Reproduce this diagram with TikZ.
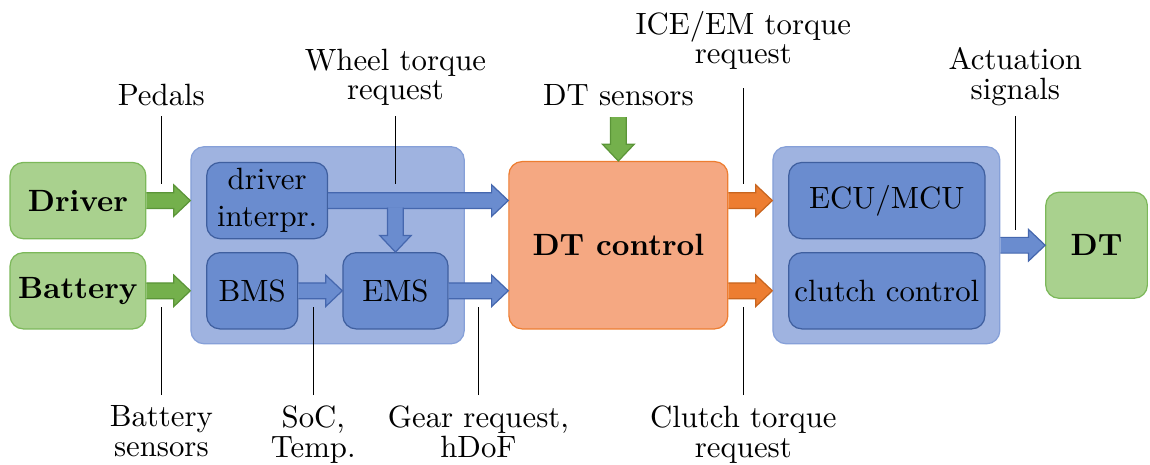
\documentclass[tikz,border=0pt]{standalone}
\usepackage{amsmath}
\usetikzlibrary{calc, positioning}

\definecolor{drvfill}{HTML}{A9D18E}
\definecolor{drvline}{HTML}{7CB85A}
\definecolor{grnarrow}{HTML}{74B04C}
\definecolor{grnarrowline}{HTML}{5B9538}
\definecolor{blkfill}{HTML}{6A8CCF}
\definecolor{blkline}{HTML}{3F5F9F}
\definecolor{bluarrowline}{HTML}{4567AE}
\definecolor{grpfill}{HTML}{9FB3E0}
\definecolor{grpline}{HTML}{86A0D8}
\definecolor{ctrlfill}{HTML}{F5A882}
\definecolor{ctrlline}{HTML}{ED7D31}
\definecolor{orgarrow}{HTML}{ED7D31}
\definecolor{orgarrowline}{HTML}{C8651F}

\tikzset{
  blk/.style={rounded corners=0.15cm, minimum height=0.87cm, inner sep=1pt, align=center},
  envbox/.style={blk, draw=drvline, fill=drvfill, font=\bfseries},
  ctrlbox/.style={blk, draw=blkline, fill=blkfill},
  grp/.style={rounded corners=0.15cm, draw=grpline, fill=grpfill, inner sep=0pt},
  sig/.style={align=center, font=\fontsize{10pt}{9.6pt}\selectfont},
  pointer/.style={black, line width=0.4pt},
  bluearrow/.style={fill=blkfill, draw=bluarrowline, line width=0.4pt},
  greenarrow/.style={fill=grnarrow, draw=grnarrowline, line width=0.4pt},
  orangearrow/.style={fill=orgarrow, draw=orgarrowline, line width=0.4pt},
}

% block arrow from #2 to #3 (shaft half width, head half width, head length)
\def\shaftw{0.09cm}
\def\headw{0.18cm}
\def\headlen{0.19cm}
\newcommand{\fatarrow}[3][bluearrow]{%
  \coordinate (fa-s) at (#2);
  \coordinate (fa-e) at (#3);
  \coordinate (fa-h) at ($(fa-e)!\headlen!(fa-s)$);
  \filldraw[#1] ($(fa-s)!\shaftw!90:(fa-e)$)
    -- ($(fa-h)!\shaftw!90:(fa-e)$)
    -- ($(fa-h)!\headw!90:(fa-e)$)
    -- (fa-e)
    -- ($(fa-h)!\headw!-90:(fa-e)$)
    -- ($(fa-h)!\shaftw!-90:(fa-e)$)
    -- ($(fa-s)!\shaftw!-90:(fa-e)$);
}

\begin{document}
\begin{tikzpicture}
\useasboundingbox (0,0) rectangle (13.13,5.30);

% Inputs
\node[envbox, minimum width=1.55cm] (driver) at (0.89,3.01) {Driver};
\node[envbox, minimum width=1.55cm] (battery) at (0.89,1.98) {Battery};

% Supervisory layer
\node[grp, minimum width=3.12cm, minimum height=2.25cm] (grp1) at (3.74,2.50) {};
\node[ctrlbox, minimum width=1.38cm] (dint) at (3.05,3.01) {driver\\interpr.};
\node[ctrlbox, minimum width=1.04cm] (bms) at (2.88,1.98) {BMS};
\node[ctrlbox, minimum width=1.20cm] (ems) at (4.515,1.98) {EMS};

% Drivetrain control
\node[blk, draw=ctrlline, fill=ctrlfill, minimum width=2.50cm, minimum height=1.91cm,
      font=\bfseries] (dtc) at (7.06,2.50) {DT control};

% Low level controllers
\node[grp, minimum width=2.59cm, minimum height=2.25cm] (grp2) at (10.12,2.50) {};
\node[ctrlbox, minimum width=2.24cm] (ecu) at (10.125,3.01) {ECU/MCU};
\node[ctrlbox, minimum width=2.24cm] (clutch) at (10.125,1.98) {clutch control};

% Plant
\node[envbox, minimum width=1.16cm, minimum height=1.21cm] (dt) at (12.52,2.50) {DT};

% Signal flow
\fatarrow[greenarrow]{driver.east}{driver.east -| grp1.west}
\fatarrow[greenarrow]{battery.east}{battery.east -| grp1.west}
\fatarrow{dint.east}{dint.east -| dtc.west}
\fatarrow{$(dint.east -| ems.north)+(0,-0.08)$}{ems.north}
\fatarrow{bms.east}{bms.east -| ems.west}
\fatarrow{ems.east}{ems.east -| dtc.west}
\fatarrow[orangearrow]{dtc.east |- ecu.west}{ecu.west -| grp2.west}
\fatarrow[orangearrow]{dtc.east |- clutch.west}{clutch.west -| grp2.west}
\fatarrow{grp2.east}{grp2.east -| dt.west}

\node[sig, above=0.5cm of dtc] (dtsens) {DT sensors};
\fatarrow[greenarrow]{dtsens.south}{dtsens.south |- dtc.north}

% Signal names
\coordinate (pedalsend) at ($(driver.east)+(0.17,0.19)$);
\coordinate (wheelend) at ($(dint.east -| ems.north)+(0,0.19)$);
\coordinate (iceend) at ($(dtc.east |- ecu.west)+(0.17,0.19)$);
\coordinate (actend) at ($(grp2.east)+(0.17,0.17)$);
\coordinate (battend) at ($(battery.east)+(0.17,-0.18)$);
\coordinate (socend) at ($(bms.east)+(0.17,-0.18)$);
\coordinate (gearend) at ($(ems.east)!0.5!(ems.east -| dtc.west)+(0,-0.18)$);
\coordinate (clutchend) at ($(dtc.east |- clutch.west)+(0.17,-0.18)$);

\node[sig, above=0.77cm of pedalsend] (pedals) {Pedals};
\node[sig, above=0.77cm of wheelend] (wheel) {Wheel torque\\request};
\node[sig, above=1.18cm of iceend] (ice) {ICE/EM torque\\request};
\node[sig, above=1.30cm of actend] (act) {Actuation\\signals};
\node[sig, below=1.01cm of battend] (battsens) {Battery\\sensors};
\node[sig, below=1.01cm of socend] (soc) {SoC,\\Temp.};
\node[sig, below=1.01cm of gearend] (gear) {Gear request,\\hDoF};
\node[sig, below=1.01cm of clutchend] (clutchreq) {Clutch torque\\request};

\draw[pointer] (pedals) -- (pedalsend);
\draw[pointer] (wheel) -- (wheelend);
\draw[pointer, shorten <=0.09cm] (ice) -- (iceend);
\draw[pointer] (act) -- (actend);
\draw[pointer] (battsens) -- (battend);
\draw[pointer] (soc) -- (socend);
\draw[pointer] (gear) -- (gearend);
\draw[pointer] (clutchreq) -- (clutchend);
\end{tikzpicture}
\end{document}
